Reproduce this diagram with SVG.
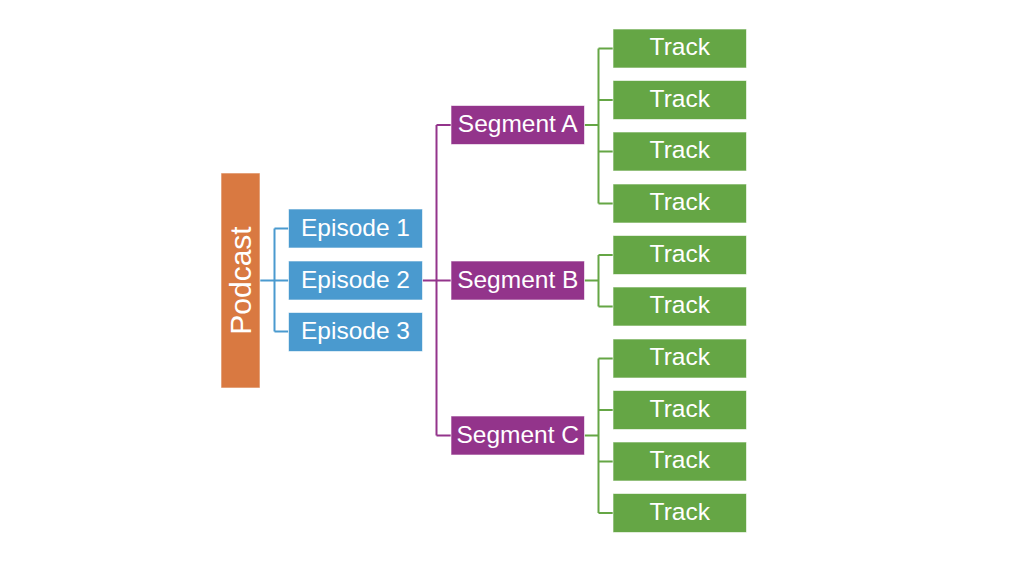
<svg xmlns="http://www.w3.org/2000/svg" width="1024" height="572" viewBox="0 0 1024 572">
<style>
.box{stroke:#ffffff;stroke-opacity:0.6;stroke-width:1}
.pod{fill:#D97941}
.ep{fill:#4A9ACF}
.seg{fill:#93348B}
.tr{fill:#65A645}
text{font-family:"Liberation Sans",Arial,sans-serif;font-size:24.5px;fill:#ffffff;text-anchor:middle}
.c{fill:none;stroke-width:2}
</style>
<rect width="1024" height="572" fill="#ffffff"/>
<g id="connectors">
<path class="c" stroke="#4A9ACF" d="M260,280.5H274.5M274.5,228.5V331.5M274.5,228.5H288.5M274.5,280.5H288.5M274.5,331.5H288.5"/>
<path class="c" stroke="#93348B" d="M422.5,280.5H436.5M436.5,125V435.5M436.5,125H451M436.5,280.5H451M436.5,435.5H451"/>
<path class="c" stroke="#65A645" d="M584.5,125H598.5M598.5,48.5V203.5M598.5,48.5H613M598.5,100H613M598.5,151.5H613M598.5,203.5H613"/>
<path class="c" stroke="#65A645" d="M584.5,280.5H598.5M598.5,255V306.5M598.5,255H613M598.5,306.5H613"/>
<path class="c" stroke="#65A645" d="M584.5,435.5H598.5M598.5,358.5V513M598.5,358.5H613M598.5,410H613M598.5,461.5H613M598.5,513H613"/>
</g>
<g id="podcast"><rect class="box pod" x="221" y="173" width="39" height="215"/><text transform="translate(251,280.5) rotate(-90)" style="font-size:30px">Podcast</text></g>
<g id="episode1"><rect class="box ep" x="288.5" y="209" width="134" height="39"/><text x="355.5" y="235.5">Episode 1</text></g>
<g id="episode2"><rect class="box ep" x="288.5" y="261" width="134" height="39"/><text x="355.5" y="287.5">Episode 2</text></g>
<g id="episode3"><rect class="box ep" x="288.5" y="312.5" width="134" height="39"/><text x="355.5" y="339">Episode 3</text></g>
<g id="segmentA"><rect class="box seg" x="451" y="105.5" width="133.5" height="39"/><text x="517.75" y="132">Segment A</text></g>
<g id="segmentB"><rect class="box seg" x="451" y="261" width="133.5" height="39"/><text x="517.75" y="287.5">Segment B</text></g>
<g id="segmentC"><rect class="box seg" x="451" y="416" width="133.5" height="39"/><text x="517.75" y="442.5">Segment C</text></g>
<g id="track1"><rect class="box tr" x="613" y="29" width="133.5" height="39"/><text x="679.75" y="55">Track</text></g>
<g id="track2"><rect class="box tr" x="613" y="80.5" width="133.5" height="39"/><text x="679.75" y="106.5">Track</text></g>
<g id="track3"><rect class="box tr" x="613" y="132" width="133.5" height="39"/><text x="679.75" y="158">Track</text></g>
<g id="track4"><rect class="box tr" x="613" y="184" width="133.5" height="39"/><text x="679.75" y="210">Track</text></g>
<g id="track5"><rect class="box tr" x="613" y="235.5" width="133.5" height="39"/><text x="679.75" y="261.5">Track</text></g>
<g id="track6"><rect class="box tr" x="613" y="287" width="133.5" height="39"/><text x="679.75" y="313">Track</text></g>
<g id="track7"><rect class="box tr" x="613" y="339" width="133.5" height="39"/><text x="679.75" y="365">Track</text></g>
<g id="track8"><rect class="box tr" x="613" y="390.5" width="133.5" height="39"/><text x="679.75" y="416.5">Track</text></g>
<g id="track9"><rect class="box tr" x="613" y="442" width="133.5" height="39"/><text x="679.75" y="468">Track</text></g>
<g id="track10"><rect class="box tr" x="613" y="493.5" width="133.5" height="39"/><text x="679.75" y="519.5">Track</text></g>
</svg>
